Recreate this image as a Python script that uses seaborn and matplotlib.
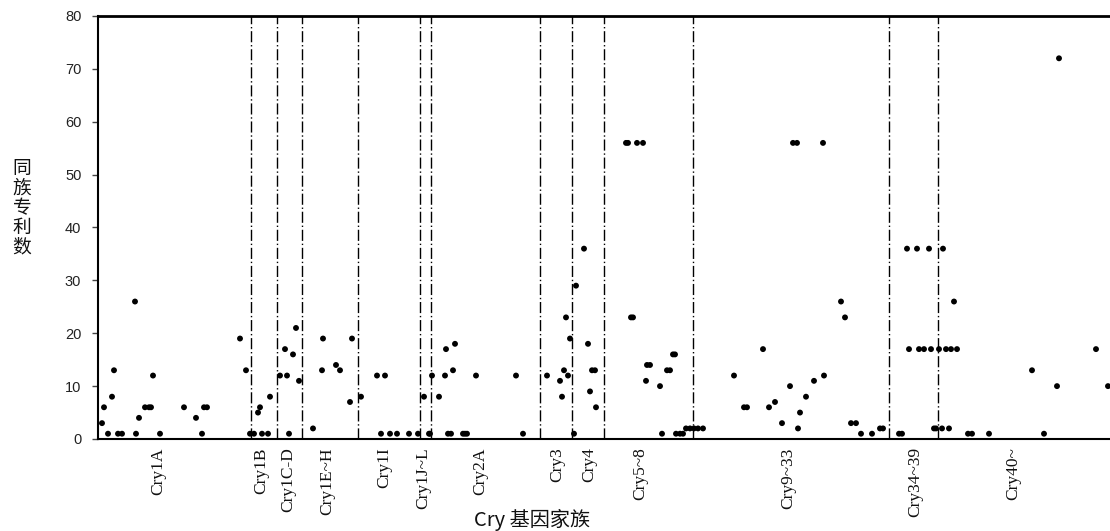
import matplotlib
matplotlib.use("Agg")
import matplotlib.pyplot as plt
import seaborn as sns
import pandas as pd

# ---- data (x = patent sequence position, y = number of family patents) ----
cry1a_x = [2, 3, 5, 7, 8, 10, 12, 18.5, 19, 20.5, 23.5, 25.5, 26.5, 27.5, 31, 43, 49, 52, 53, 54.5, 71, 74]
cry1a_y = [3, 6, 1, 8, 13, 1, 1, 26, 1, 4, 6, 6, 6, 12, 1, 6, 4, 1, 6, 6, 19, 13]
cry1b_x = [76, 78, 80, 81, 82, 85, 86]
cry1b_y = [1, 1, 5, 6, 1, 1, 8]
cry1cd_x = [91, 93.5, 94.5, 95.5, 97.5, 99, 100.5]
cry1cd_y = [12, 17, 12, 1, 16, 21, 11]
cry1eh_x = [107.5, 112, 112.5, 119, 121, 126, 127]
cry1eh_y = [2, 13, 19, 14, 13, 7, 19]
cry1i_x = [131.5, 139.5, 141.5, 143.5, 146, 149.5, 155.5, 160]
cry1i_y = [8, 12, 1, 12, 1, 1, 1, 1]
cry1jl_x = [163, 165.5, 166]
cry1jl_y = [8, 1, 1]
cry2a_x = [167, 170.5, 173.5, 174, 175, 176.5, 177.5, 178.5, 182.5, 183.5, 184.5, 189, 209, 212.5]
cry2a_y = [12, 8, 12, 17, 1, 1, 13, 18, 1, 1, 1, 12, 12, 1]
cry3_x = [224.5, 231, 232, 233, 234, 235, 236]
cry3_y = [12, 11, 8, 13, 23, 12, 19]
cry4_x = [238, 239, 243, 245, 246, 247, 248.5, 249]
cry4_y = [1, 29, 36, 18, 9, 13, 13, 6]
cry5_8_x = [264, 265, 266.5, 267.5, 269.5, 272.5, 274, 274.5, 276, 281, 282, 284.5, 286,
            287.5, 288.5, 289, 291, 292.5, 294, 296]
cry5_8_y = [56, 56, 23, 23, 56, 56, 11, 14, 14, 10, 1, 13, 13, 16, 16, 1, 1, 1, 2, 2]
cry9_33_x = [298, 300, 302.5, 318, 323, 324.5, 332.5, 335.5, 338.5, 342, 346, 347.5, 349.5,
             350, 351, 354, 358, 362.5, 363, 371.5, 373.5, 376.5, 379, 381.5, 387, 391, 392.5]
cry9_33_y = [2, 2, 2, 12, 6, 6, 17, 6, 7, 3, 10, 56, 56, 2, 5, 8, 11, 56, 12, 26, 23, 3, 3,
             1, 1, 2, 2]
cry34_39_x = [400.5, 402, 404.5, 405.5, 409.5, 410.5, 413, 415.5, 416.5, 418, 419]
cry34_39_y = [1, 1, 36, 17, 36, 17, 17, 36, 17, 2, 2]
cry40_x = [420.5, 422, 422.5, 424, 425.5, 426.5, 428, 429.5, 435, 437, 445.5, 467, 473,
           479.5, 480.5, 499, 505]
cry40_y = [17, 2, 36, 17, 2, 17, 26, 17, 1, 1, 1, 13, 1, 10, 72, 17, 10]

group_names = ["Cry1A", "Cry1B", "Cry1C-D", "Cry1E~H", "Cry1I", "Cry1J~L", "Cry2A",
               "Cry3", "Cry4", "Cry5~8", "Cry9~33", "Cry34~39", "Cry40~"]
group_label_pos = [30, 81.5, 95, 114.5, 143, 162.5, 191, 229.5, 245.5, 271, 345, 408.5, 457.5]
group_bounds = [76.5, 89.5, 102, 130, 161, 166.5, 221, 237, 253, 297.5, 395.5, 420]

y_ticks = [0, 10, 20, 30, 40, 50, 60, 70, 80]

xs = [cry1a_x, cry1b_x, cry1cd_x, cry1eh_x, cry1i_x, cry1jl_x, cry2a_x, cry3_x, cry4_x,
      cry5_8_x, cry9_33_x, cry34_39_x, cry40_x]
ys = [cry1a_y, cry1b_y, cry1cd_y, cry1eh_y, cry1i_y, cry1jl_y, cry2a_y, cry3_y, cry4_y,
      cry5_8_y, cry9_33_y, cry34_39_y, cry40_y]

rows = []
for name, gx, gy in zip(group_names, xs, ys):
    for a, b in zip(gx, gy):
        rows.append({"group": name, "x": a, "y": b})
df = pd.DataFrame(rows)

# ---- style ----
sns.set_theme(style="ticks")
plt.rcParams['font.family'] = ['Noto Sans CJK SC', 'DejaVu Sans']

W, H = 1110, 531
fig = plt.figure(figsize=(W / 100, H / 100), dpi=100)
ax = fig.add_axes([98 / W, 1 - 439 / H, 1 - 98 / W + 0.01, (439 - 16) / H])

sns.scatterplot(data=df, x="x", y="y", color="black", s=18, edgecolor="none",
                linewidth=0, legend=False, ax=ax, zorder=3)

for b in group_bounds:
    ax.axvline(b, color="black", lw=1.0, ls=(0, (8, 2, 1, 2)), zorder=2)

ax.set_xlim(0, 506 + 0.01 * W / 2)
ax.set_ylim(0, 80)
ax.set_yticks(y_ticks)
ax.set_yticklabels([str(t) for t in y_ticks], family="Liberation Sans", fontsize=10.5,
                   color="#222222")
ax.tick_params(axis="y", direction="out", length=4, width=1, pad=8, color="#444444")

ax.set_xticks(group_label_pos)
ax.set_xticklabels(group_names, rotation=90, family="Liberation Serif", fontsize=12.5,
                   va="top", color="#111111")
ax.tick_params(axis="x", length=0, pad=6)

ax.set_xlabel("")
ax.set_ylabel("")

for side in ["left", "bottom"]:
    ax.spines[side].set_linewidth(1.5)
    ax.spines[side].set_color("black")
ax.spines["top"].set_linewidth(2.0)
ax.spines["top"].set_color("black")
ax.spines["top"].set_visible(True)
ax.spines["right"].set_visible(False)

fig.text(532 / W, 1 - 520 / H, "Cry 基因家族", ha="center", va="center", fontsize=14.5,
         family=["Noto Sans CJK SC", "DejaVu Sans"], color="#111111")
fig.text(22 / W, 1 - 208 / H, "同\n族\n专\n利\n数", ha="center", va="center", fontsize=13.5,
         linespacing=0.92, family=["Noto Sans CJK SC", "DejaVu Sans"], color="#111111")

fig.savefig("out.png", dpi=100)
